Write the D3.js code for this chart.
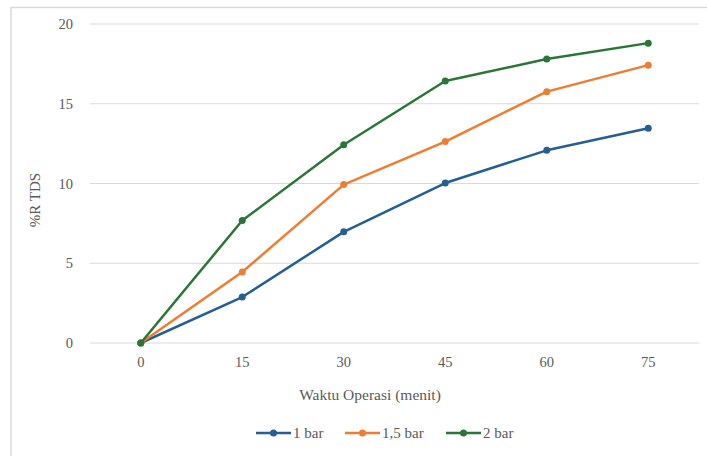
<!DOCTYPE html>
<html><head><meta charset="utf-8">
<script src="https://cdn.jsdelivr.net/npm/d3@7"></script>
<style>body{margin:0;background:#fff}svg{display:block}</style>
</head><body>
<script>
const categories = ["0","15","30","45","60","75"];
const yTicks = [0,5,10,15,20];
const seriesNames = ["1 bar","1,5 bar","2 bar"];
const bar1 = [0, 2.88, 6.97, 10.03, 12.08, 13.47];
const bar15 = [0, 4.45, 9.93, 12.63, 15.76, 17.42];
const bar2 = [0, 7.68, 12.43, 16.43, 17.8, 18.8];
const colors = ["#255e91","#ed7d31","#2a7636"];
const series = [bar1, bar15, bar2];
const FONT = "'Liberation Serif','Times New Roman','DejaVu Serif',serif";

const W=707,H=456;
const svg=d3.select("body").append("svg").attr("width",W).attr("height",H);
svg.append("rect").attr("x",11).attr("y",7.5).attr("width",W+10).attr("height",H+10)
  .attr("fill","none").attr("stroke","#d9d9d9").attr("stroke-width",1.5);

const x=d3.scaleBand().domain(categories).range([90,699]);
const y=d3.scaleLinear().domain([0,20]).range([343,24]);

svg.append("g").selectAll("line").data(yTicks).join("line")
  .attr("x1",90).attr("x2",699).attr("y1",d=>y(d)).attr("y2",d=>y(d))
  .attr("stroke","#d9d9d9").attr("stroke-width",1);

const yAxis=d3.axisLeft(y).tickValues(yTicks).tickSize(0).tickPadding(0);
const gy=svg.append("g").attr("transform","translate(73,0)").call(yAxis);
gy.select(".domain").remove();
gy.attr("font-family",null).attr("font-size",null);
gy.selectAll("text").style("font-size","14.5px").style("font-family",FONT).attr("fill","#595959");

const xAxis=d3.axisBottom(x).tickSize(0).tickPadding(0);
const gx=svg.append("g").attr("transform","translate(0,357)").call(xAxis);
gx.select(".domain").remove();
gx.attr("font-family",null).attr("font-size",null);
gx.selectAll("text").style("font-size","14.5px").style("font-family",FONT).attr("fill","#595959");

svg.append("text").attr("x",370).attr("y",400).attr("text-anchor","middle")
  .style("font-size","15.5px").style("font-family",FONT).attr("fill","#595959").text("Waktu Operasi (menit)");
svg.append("text").attr("transform","translate(40,200) rotate(-90)").attr("text-anchor","middle")
  .style("font-size","15px").style("font-family",FONT).attr("fill","#595959").text("%R TDS");

const line=d3.line().x((d,i)=>x(categories[i])+x.bandwidth()/2).y(d=>y(d));
series.forEach((s,k)=>{
  svg.append("path").datum(s).attr("d",line).attr("fill","none")
    .attr("stroke",colors[k]).attr("stroke-width",2.5).attr("stroke-linejoin","round");
  svg.append("g").selectAll("circle").data(s).join("circle")
    .attr("cx",(d,i)=>x(categories[i])+x.bandwidth()/2).attr("cy",d=>y(d)).attr("r",3.5)
    .attr("fill",colors[k]);
});

const legX=[256,345,446];
seriesNames.forEach((n,k)=>{
  const g=svg.append("g").attr("transform",`translate(${legX[k]},433)`);
  g.append("line").attr("x1",0).attr("x2",35).attr("stroke",colors[k]).attr("stroke-width",2.5);
  g.append("circle").attr("cx",17.5).attr("r",3.5).attr("fill",colors[k]);
  g.append("text").attr("x",37).attr("y",5).style("font-size","15px").style("font-family",FONT).attr("fill","#595959").text(n);
});
</script>
</body></html>
